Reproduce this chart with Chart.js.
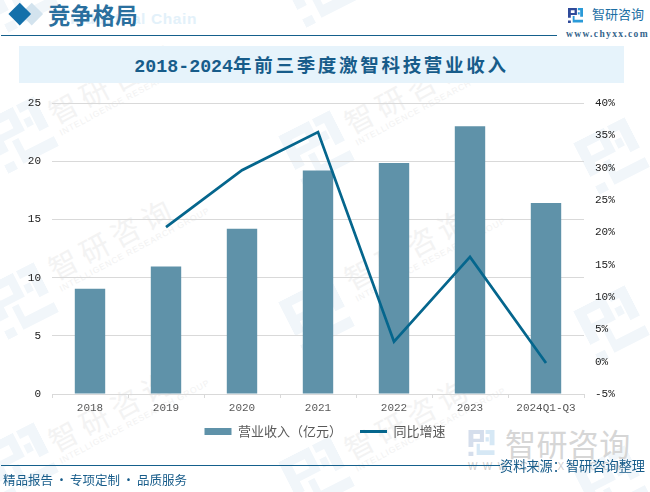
<!DOCTYPE html>
<html>
<head>
<meta charset="utf-8">
<script src="https://cdn.jsdelivr.net/npm/chart.js@4"></script>
<style>
  html, body { margin: 0; padding: 0; background: #fff; overflow: hidden; }
  #page { position: relative; width: 650px; height: 492px; overflow: hidden; font-family: "Noto Sans CJK SC", sans-serif; }
  #page > div, #page > svg { position: absolute; white-space: nowrap; }
  #myChart { position: absolute; left: 0; top: 0; }
  .wm { color: #f3f3f3; font-size: 29px; line-height: 34px; letter-spacing: 6px; transform: rotate(-28deg); transform-origin: left center; }
  .wm span { display: block; font: 8.5px/10px "Liberation Sans"; letter-spacing: .9px; color: #f2f2f2; }
  .wl { transform: rotate(-27deg); fill: #f1f6fa; }
  .dot { display: inline-block; width: 17px; text-align: center; }
</style>
</head>
<body>
<svg width="0" height="0" style="position:absolute">
  <defs>
    <symbol id="logoDark" viewBox="0 0 16 16">
      <path d="M0 0H9.5V7.4H3V5.4H7V2.5H3V10.4H0Z M0 13.4H3V16H0Z"/>
    </symbol>
    <symbol id="logoLight" viewBox="0 0 16 16">
      <path d="M10.5 0H16V9.4H13V2.5H10.5Z M10.5 4.5H12.5V7H10.5Z M5 8.4H7V12.4H16V15.4H5Z"/>
    </symbol>
  </defs>
</svg>
<div id="page">
  <svg class="wl" style="left:-8px;top:-35px" width="58" height="58"><use href="#logoDark"/><use href="#logoLight"/></svg>
  <svg class="wl" style="left:290px;top:-40px" width="58" height="58"><use href="#logoDark"/><use href="#logoLight"/></svg>
  <svg class="wl" style="left:-8px;top:106px" width="58" height="58"><use href="#logoDark"/><use href="#logoLight"/></svg>
  <svg class="wl" style="left:288px;top:120px" width="58" height="58"><use href="#logoDark"/><use href="#logoLight"/></svg>
  <svg class="wl" style="left:583px;top:127px" width="58" height="58"><use href="#logoDark"/><use href="#logoLight"/></svg>
  <svg class="wl" style="left:-8px;top:272px" width="58" height="58"><use href="#logoDark"/><use href="#logoLight"/></svg>
  <svg class="wl" style="left:288px;top:286px" width="58" height="58"><use href="#logoDark"/><use href="#logoLight"/></svg>
  <svg class="wl" style="left:583px;top:295px" width="58" height="58"><use href="#logoDark"/><use href="#logoLight"/></svg>
  <svg class="wl" style="left:-8px;top:432px" width="58" height="58"><use href="#logoDark"/><use href="#logoLight"/></svg>
  <svg class="wl" style="left:288px;top:446px" width="58" height="58"><use href="#logoDark"/><use href="#logoLight"/></svg>
  <svg class="wl" style="left:583px;top:455px" width="58" height="58"><use href="#logoDark"/><use href="#logoLight"/></svg>

  <div class="wm" style="left:52px;top:96px">智研咨询<span>INTELLIGENCE RESEARCH GROUP</span></div>
  <div class="wm" style="left:348px;top:106px">智研咨询<span>INTELLIGENCE RESEARCH GROUP</span></div>
  <div class="wm" style="left:52px;top:252px">智研咨询<span>INTELLIGENCE RESEARCH GROUP</span></div>
  <div class="wm" style="left:348px;top:262px">智研咨询<span>INTELLIGENCE RESEARCH GROUP</span></div>
  <div class="wm" style="left:52px;top:424px">智研咨询<span>INTELLIGENCE RESEARCH GROUP</span></div>
  <div class="wm" style="left:348px;top:432px">智研咨询<span>INTELLIGENCE RESEARCH GROUP</span></div>

  <div style="right:453px;top:9px;font:700 15.5px/20px 'Liberation Sans';letter-spacing:.6px;color:#e3f1fa">Industrial Chain</div>
  <div style="left:24px;top:6px;width:15.5px;height:15.5px;background:#d3e3ee;transform:rotate(45deg)"></div>
  <div style="left:12px;top:6px;width:15.5px;height:15.5px;background:#1470aa;transform:rotate(45deg)"></div>
  <div style="left:48px;top:-4px;font:700 22.4px/36px 'Noto Sans CJK SC';color:#2a6f9e">竞争格局</div>
  <div style="left:1px;top:35px;width:556px;height:1px;background:#15608c"></div>

  <svg style="left:568px;top:8px" width="15" height="15"><use href="#logoDark" fill="#2f4a9a"/><use href="#logoLight" fill="#2a9ad8"/></svg>
  <div style="left:592px;top:5px;font:13px/18px 'Noto Sans CJK SC';color:#1c6ea4">智研咨询</div>
  <div style="left:566px;top:28px;font:700 9.5px/12px 'Liberation Serif';letter-spacing:1.35px;color:#35658c">www.chyxx.com</div>

  <div style="left:19px;top:46px;width:605px;height:37px;background:#e6f3fb"></div>
  <div style="left:19px;top:46px;width:605px;text-align:center;color:#175c8a;font:700 18.5px/37px 'Noto Sans CJK SC';letter-spacing:2.7px"><span style="font-family:'Liberation Mono';font-size:18.3px;letter-spacing:0">2018-2024</span>年前三季度激智科技营业收入</div>

  <svg style="left:468px;top:430px" width="27" height="26"><use href="#logoDark" fill="#d5deec"/><use href="#logoLight" fill="#d6e8f5"/></svg>
  <div style="left:505px;top:421px;font:31px/44px 'Noto Sans CJK SC';letter-spacing:.4px;color:#d6d6d6">智研咨询</div>
  <div style="left:468px;top:461px;font:10px/12px 'Liberation Sans';letter-spacing:5.4px;color:#cfcfcf">WWW.CHYXX.COM</div>

  <canvas id="myChart" width="650" height="492"></canvas>

  <div style="left:1px;top:465px;width:499px;height:1px;background:#15608c"></div>
  <div style="left:3px;top:470px;font:12.5px/20px 'Noto Sans CJK SC';color:#175c8a">精品报告<span class="dot">·</span>专项定制<span class="dot">·</span>品质服务</div>
  <div style="left:500px;top:456px;font:13.2px/20px 'Noto Sans CJK SC';color:#175c8a">资料来源：智研咨询整理</div>
</div>

<script>
const labels = ["2018", "2019", "2020", "2021", "2022", "2023", "2024Q1-Q3"];
const revenue = [9.05, 10.95, 14.2, 19.2, 19.85, 23.0, 16.4];
const growth = [null, 20.8, 29.6, 35.5, 3.1, 16.2, -0.2];
const leftTicks = [0, 5, 10, 15, 20, 25];

const tickFont = { family: "Liberation Mono", size: 11 };

// legend sits closer to the axis than the layout would put it
const legendShift = {
  id: "legendShift",
  afterLayout(chart) {
    chart.legend.top -= 17;
    chart.legend.bottom -= 17;
  },
};

const myChart = new Chart(document.getElementById("myChart"), {
  plugins: [legendShift],
  data: {
    labels: labels,
    datasets: [
      {
        type: "line",
        label: "同比增速",
        data: growth,
        yAxisID: "y1",
        borderColor: "#05668d",
        backgroundColor: "#05668d",
        borderWidth: 2.75,
        pointRadius: 0,
        tension: 0,
        order: 1,
      },
      {
        type: "bar",
        label: "营业收入（亿元）",
        data: revenue,
        yAxisID: "y",
        backgroundColor: "#5f92a9",
        barPercentage: 0.4,
        categoryPercentage: 1,
        order: 2,
      },
    ],
  },
  options: {
    responsive: false,
    animation: false,
    layout: { padding: { left: 0, right: 0, top: 103, bottom: 27 } },
    plugins: {
      tooltip: { enabled: false },
      legend: {
        position: "bottom",
        reverse: true,
        labels: {
          usePointStyle: true,
          pointStyleWidth: 27,
          boxHeight: 7,
          padding: 18,
          color: "#595959",
          font: { family: "Noto Sans CJK SC", size: 13 },
          generateLabels(chart) {
            return Chart.defaults.plugins.legend.labels.generateLabels(chart).map((item) => {
              const isLine = item.text === "同比增速";
              item.pointStyle = isLine ? "line" : "rect";
              item.lineWidth = isLine ? 3 : 0;
              return item;
            });
          },
        },
      },
    },
    scales: {
      x: {
        grid: { drawOnChartArea: false, color: "#d9d9d9", tickLength: 4 },
        border: { color: "#d9d9d9" },
        afterFit(axis) { axis.height = 30; },
        ticks: { color: "#595959", font: tickFont, maxRotation: 0, autoSkip: false, padding: 3 },
      },
      y: {
        position: "left",
        min: 0,
        max: 25,
        grid: { color: "#d9d9d9", drawTicks: false },
        border: { display: false },
        afterFit(axis) { axis.width = 52; },
        afterBuildTicks(axis) { axis.ticks = leftTicks.map((v) => ({ value: v })); },
        ticks: { color: "#222", font: tickFont, padding: 11 },
      },
      y1: {
        position: "right",
        min: -5,
        max: 40,
        grid: { display: false },
        border: { display: false },
        afterFit(axis) { axis.width = 66; },
        ticks: {
          stepSize: 5,
          color: "#222",
          padding: 3,
          font: tickFont,
          callback: (v) => v + "%",
        },
      },
    },
  },
});
</script>
</body>
</html>
